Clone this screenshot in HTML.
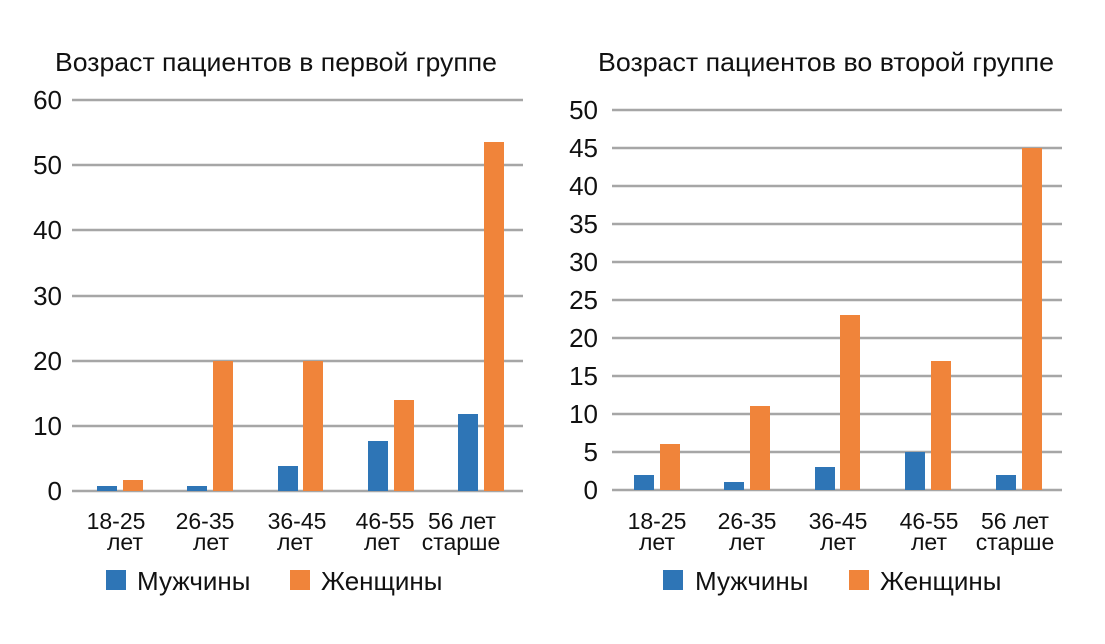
<!DOCTYPE html>
<html><head><meta charset="utf-8"><style>body{margin:0;background:#fff}</style></head><body>
<svg width="1105" height="639" xmlns="http://www.w3.org/2000/svg" font-family="Liberation Sans, DejaVu Sans, sans-serif" fill="#111">
<rect width="1105" height="639" fill="#fff"/>
<g stroke="#a6a6a6" stroke-width="2.5">
<line x1="72" x2="523" y1="100" y2="100"/><line x1="72" x2="523" y1="165" y2="165"/><line x1="72" x2="523" y1="230" y2="230"/><line x1="72" x2="523" y1="296" y2="296"/><line x1="72" x2="523" y1="361" y2="361"/><line x1="72" x2="523" y1="426" y2="426"/><line x1="72" x2="523" y1="491" y2="491"/>
<line x1="612" x2="1062" y1="110" y2="110"/><line x1="612" x2="1062" y1="148" y2="148"/><line x1="612" x2="1062" y1="186" y2="186"/><line x1="612" x2="1062" y1="224" y2="224"/><line x1="612" x2="1062" y1="262" y2="262"/><line x1="612" x2="1062" y1="300" y2="300"/><line x1="612" x2="1062" y1="338" y2="338"/><line x1="612" x2="1062" y1="376" y2="376"/><line x1="612" x2="1062" y1="414" y2="414"/><line x1="612" x2="1062" y1="452" y2="452"/><line x1="612" x2="1062" y1="490" y2="490"/>
</g>
<g fill="#2e75b6">
<rect x="97" y="486" width="20" height="5"/><rect x="187" y="486" width="20" height="5"/><rect x="278" y="466" width="20" height="25"/><rect x="368" y="441" width="20" height="50"/><rect x="458" y="414" width="20" height="77"/>
<rect x="634" y="475" width="20" height="15"/><rect x="724" y="482" width="20" height="8"/><rect x="815" y="467" width="20" height="23"/><rect x="905" y="452" width="20" height="38"/><rect x="996" y="475" width="20" height="15"/>
<rect x="106" y="570" width="20" height="20"/><rect x="663" y="570" width="20" height="20"/>
</g>
<g fill="#f0843a">
<rect x="123" y="480" width="20" height="11"/><rect x="213" y="361" width="20" height="130"/><rect x="303" y="361" width="20" height="130"/><rect x="394" y="400" width="20" height="91"/><rect x="484" y="142" width="20" height="349"/>
<rect x="660" y="444" width="20" height="46"/><rect x="750" y="406" width="20" height="84"/><rect x="840" y="315" width="20" height="175"/><rect x="931" y="361" width="20" height="129"/><rect x="1022" y="148" width="20" height="342"/>
<rect x="290" y="570" width="20" height="20"/><rect x="849" y="570" width="20" height="20"/>
</g>
<g font-size="26">
<text x="276" y="71" text-anchor="middle" textLength="442" lengthAdjust="spacingAndGlyphs">Возраст пациентов в первой группе</text>
<text x="826" y="71" text-anchor="middle" textLength="456" lengthAdjust="spacingAndGlyphs">Возраст пациентов во второй группе</text>
<g text-anchor="end"><text x="62" y="109">60</text><text x="62" y="174">50</text><text x="62" y="239">40</text><text x="62" y="305">30</text><text x="62" y="370">20</text><text x="62" y="435">10</text><text x="62" y="500">0</text>
<text x="598" y="119">50</text><text x="598" y="157">45</text><text x="598" y="195">40</text><text x="598" y="233">35</text><text x="598" y="271">30</text><text x="598" y="309">25</text><text x="598" y="347">20</text><text x="598" y="385">15</text><text x="598" y="423">10</text><text x="598" y="461">5</text><text x="598" y="499">0</text></g>
<text x="137" y="590">Мужчины</text><text x="321" y="590">Женщины</text>
<text x="695" y="590">Мужчины</text><text x="880" y="590">Женщины</text>
</g>
<g font-size="23">
<text x="116" y="529" text-anchor="middle">18-25</text><text x="143" y="550" text-anchor="end">лет</text>
<text x="205" y="529" text-anchor="middle">26-35</text><text x="229" y="550" text-anchor="end">лет</text>
<text x="297" y="529" text-anchor="middle">36-45</text><text x="313" y="550" text-anchor="end">лет</text>
<text x="385" y="529" text-anchor="middle">46-55</text><text x="400" y="550" text-anchor="end">лет</text>
<text x="462" y="529" text-anchor="middle">56 лет</text><text x="461" y="550" text-anchor="middle">старше</text>
<text x="657" y="529" text-anchor="middle">18-25</text><text x="657" y="550" text-anchor="middle">лет</text>
<text x="747" y="529" text-anchor="middle">26-35</text><text x="747" y="550" text-anchor="middle">лет</text>
<text x="838" y="529" text-anchor="middle">36-45</text><text x="838" y="550" text-anchor="middle">лет</text>
<text x="929" y="529" text-anchor="middle">46-55</text><text x="929" y="550" text-anchor="middle">лет</text>
<text x="1015" y="529" text-anchor="middle">56 лет</text><text x="1015" y="550" text-anchor="middle">старше</text>
</g>
</svg>
</body></html>
